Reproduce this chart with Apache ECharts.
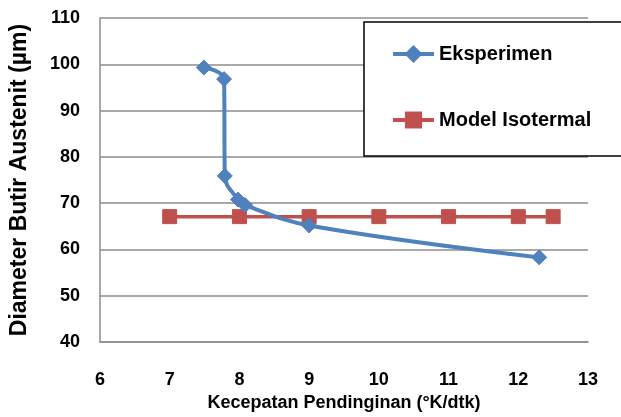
<!DOCTYPE html>
<html>
<head>
<meta charset="utf-8">
<script src="https://cdn.jsdelivr.net/npm/echarts@6/dist/echarts.min.js"></script>
<style>
  html, body { margin: 0; padding: 0; background: #fff; }
  #chart { width: 621px; height: 417px; }
</style>
</head>
<body>
<div id="chart"></div>
<script>
var xTicks = [6, 7, 8, 9, 10, 11, 12, 13];
var yTicks = [40, 50, 60, 70, 80, 90, 100, 110];
var eksperimenX = [7.49, 7.78, 7.79, 7.98, 8.08, 9.0, 12.3];
var eksperimenY = [99.3, 96.8, 75.9, 70.8, 69.6, 65.2, 58.3];
var modelX = [7, 8, 9, 10, 11, 12, 12.5];
var modelY = [67.1, 67.1, 67.1, 67.1, 67.1, 67.1, 67.1];

function pairs(xs, ys) { return xs.map(function (x, i) { return [x, ys[i]]; }); }

var FONT = '"Liberation Sans", Arial, sans-serif';
var chart = echarts.init(document.getElementById('chart'), null, { renderer: 'canvas' });
chart.setOption({
  animation: false,
  backgroundColor: '#ffffff',
  grid: { left: 99, right: 33, top: 18, bottom: 70, containLabel: false },
  legend: {
    orient: 'vertical',
    left: 364,
    top: 22,
    padding: [22, 40, 26, 27],
    itemGap: 46,
    itemWidth: 41,
    itemHeight: 19,
    borderColor: '#000',
    borderWidth: 1.5,
    backgroundColor: '#fff',
    lineStyle: { width: 4 },
    textStyle: { fontFamily: FONT, fontWeight: 'bold', fontSize: 20, color: '#000', lineHeight: 19 },
    data: ['Eksperimen', 'Model Isotermal']
  },
  xAxis: {
    type: 'value',
    min: xTicks[0], max: xTicks[xTicks.length - 1], interval: 1,
    name: 'Kecepatan Pendinginan (°K/dtk)',
    nameLocation: 'middle',
    nameGap: 45,
    nameTextStyle: { fontFamily: FONT, fontWeight: 'bold', fontSize: 18, color: '#000' },
    axisLine: { show: true, lineStyle: { color: '#8c8c8c', width: 1.5 } },
    axisTick: { show: false },
    splitLine: { show: false },
    axisLabel: { margin: 29, fontFamily: FONT, fontWeight: 'bold', fontSize: 18, color: '#000' }
  },
  yAxis: {
    type: 'value',
    min: yTicks[0], max: yTicks[yTicks.length - 1], interval: 10,
    name: 'Diameter Butir Austenit (µm)',
    nameLocation: 'middle',
    nameGap: 69,
    nameTextStyle: { fontFamily: FONT, fontWeight: 'bold', fontSize: 23, color: '#000' },
    axisLine: { show: true, lineStyle: { color: '#8c8c8c', width: 1.5 } },
    axisTick: { show: false },
    splitLine: { show: true, lineStyle: { color: '#8c8c8c', width: 1.5 } },
    axisLabel: { margin: 20, fontFamily: FONT, fontWeight: 'bold', fontSize: 18, color: '#000' }
  },
  series: [
    {
      name: 'Eksperimen',
      type: 'line',
      data: pairs(eksperimenX, eksperimenY),
      smooth: 0.4,
      symbol: 'diamond',
      symbolSize: 15,
      lineStyle: { color: '#4F81BD', width: 4 },
      itemStyle: { color: '#4F81BD', borderColor: '#4F81BD', borderWidth: 1 },
      z: 3
    },
    {
      name: 'Model Isotermal',
      type: 'line',
      data: pairs(modelX, modelY),
      symbol: 'rect',
      symbolSize: 14,
      lineStyle: { color: '#C0504D', width: 3.5 },
      itemStyle: { color: '#C0504D', borderColor: '#C0504D', borderWidth: 1 },
      z: 2
    }
  ]
});
</script>
</body>
</html>
